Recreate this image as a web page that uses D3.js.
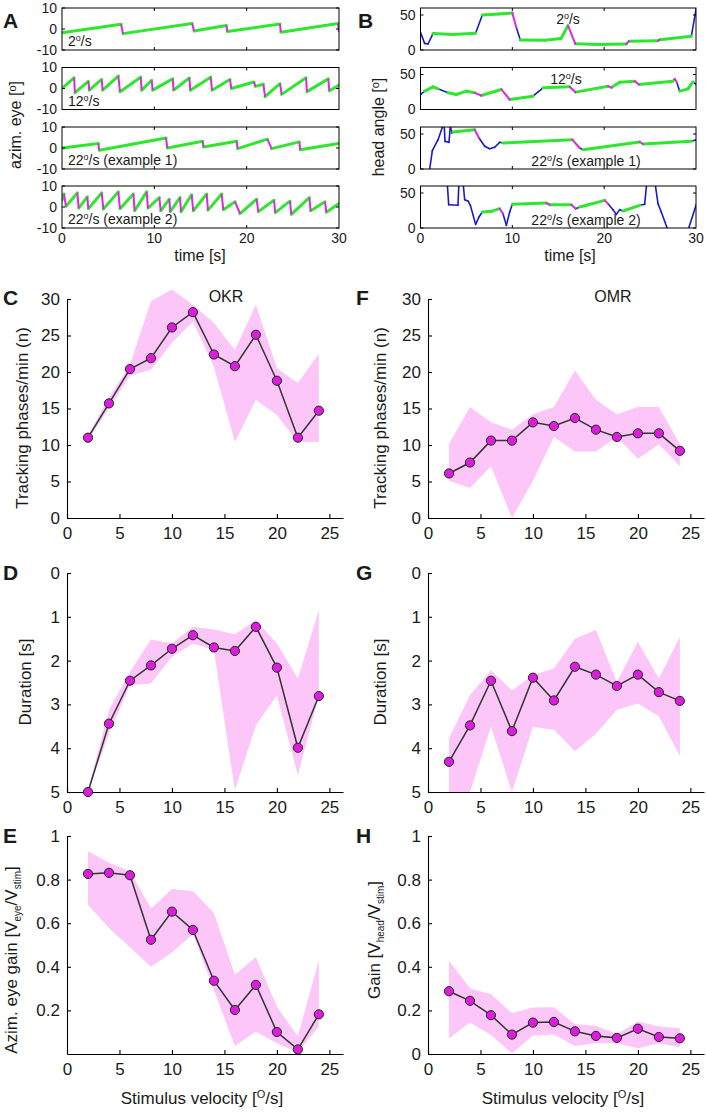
<!DOCTYPE html>
<html>
<head>
<meta charset="utf-8">
<script src="https://cdn.jsdelivr.net/npm/d3@7"></script>
<style>
  body { margin: 0; background: #fff; }
  text { font-family: "Liberation Sans", Arial, Helvetica, sans-serif; fill: #1a1a1a; }
</style>
</head>
<body>
<div id="container"></div>
<script>
/* DATA */
var speeds = [2, 4, 6, 8, 10, 12, 14, 16, 18, 20, 22, 24];

// C: OKR tracking phases/min
var okrRate   = [11.0, 15.7, 20.4, 21.9, 26.1, 28.2, 22.4, 20.8, 25.1, 18.8, 11.0, 14.7];
var okrRateLo = [10.7, 15.0, 19.5, 20.3, 24.0, 26.9, 20.7, 10.4, 16.2, 14.1, 10.4, 10.4];
var okrRateHi = [11.3, 16.5, 21.0, 29.7, 31.3, 29.2, 26.7, 23.0, 29.2, 20.5, 18.5, 22.5];
// F: OMR tracking phases/min
var omrRate   = [6.1, 7.6, 10.6, 10.6, 13.1, 12.6, 13.7, 12.1, 11.1, 11.6, 11.6, 9.2];
var omrRateLo = [5.1, 4.1, 7.1, 0.0, 5.1, 11.1, 9.1, 9.1, 11.1, 8.1, 10.1, 7.1];
var omrRateHi = [10.1, 15.2, 13.1, 12.1, 14.2, 15.2, 20.2, 16.2, 14.2, 15.2, 15.2, 10.1];
// D: OKR duration
var okrDur    = [5.0, 3.44, 2.46, 2.11, 1.73, 1.42, 1.70, 1.78, 1.23, 2.16, 3.99, 2.81];
var okrDurLo  = [4.95, 3.13, 2.26, 1.52, 1.61, 1.23, 1.29, 1.40, 1.08, 1.61, 2.41, 0.85];
var okrDurHi  = [5.0, 3.67, 2.56, 2.52, 1.91, 1.61, 1.76, 4.96, 3.48, 2.79, 4.62, 2.81];
// G: OMR duration
var omrDur    = [4.31, 3.48, 2.46, 3.61, 2.39, 2.91, 2.14, 2.32, 2.58, 2.32, 2.72, 2.92];
var omrDurLo  = [3.78, 2.79, 2.22, 2.68, 2.33, 2.18, 1.50, 1.30, 2.49, 1.57, 2.41, 1.46];
var omrDurHi  = [5.0, 5.0, 3.51, 5.0, 3.51, 3.58, 4.07, 3.67, 3.12, 2.98, 3.27, 4.18];
// E: OKR gain
var okrGain   = [0.826, 0.831, 0.820, 0.524, 0.653, 0.569, 0.336, 0.202, 0.317, 0.101, 0.021, 0.182];
var okrGainLo = [0.685, 0.578, 0.490, 0.400, 0.466, 0.550, 0.294, 0.037, 0.103, 0.049, 0.008, 0.126];
var okrGainHi = [0.930, 0.877, 0.838, 0.667, 0.757, 0.746, 0.647, 0.363, 0.444, 0.218, 0.080, 0.430];
// H: OMR gain
var omrGain   = [0.288, 0.244, 0.178, 0.089, 0.144, 0.147, 0.104, 0.083, 0.074, 0.116, 0.078, 0.072];
var omrGainLo = [0.072, 0.144, 0.087, 0.003, 0.084, 0.090, 0.037, 0.049, 0.049, 0.026, 0.049, 0.031];
var omrGainHi = [0.428, 0.302, 0.274, 0.187, 0.213, 0.215, 0.136, 0.130, 0.092, 0.149, 0.126, 0.118];

// A: azimuthal eye traces [time s, angle deg]
var eye2 = [[0,-1.8],[6.4,2.3],[6.6,-2.2],[14.1,2.6],[14.3,-1.0],[17.8,1.7],[17.9,-1.2],[23.6,2.4],[23.7,-1.5],[29.9,2.6],[30,-1.5]];
var eye12 = [[0,0],[1.30,5.1],[1.41,-2.0],[2.85,3.4],[2.96,-0.8],[4.30,4.3],[4.40,-0.8],[6.10,5.9],[6.28,-1.5],[8.52,5.4],[8.63,-0.8],
  [9.71,3.9],[9.82,-0.8],[11.99,4.6],[12.09,-0.8],[13.79,5.0],[13.90,-0.8],[16.10,5.4],[16.25,-0.8],[18.19,4.3],[18.34,0],
  [20.79,3.1],[20.94,1.0],[21.81,2.0],[21.99,-3.9],[23.61,2.3],[23.79,-2.8],[26.43,5.1],[26.53,-1.5],[28.84,4.6],[28.95,-1.1],[30,1.6]];
var eye22a = [[0.04,0],[3.94,2.1],[4.04,-1.1],[11.26,4.8],[11.41,0],[15.23,3.2],[15.33,0.5],[18.92,3.2],[19.02,-0.3],
  [22.24,4.2],[22.7,-0.3],[25.7,2.9],[25.8,-0.8],[29.93,2.1]];
var eye22b = [[0,3.2],[0.22,6.2],[0.43,0.3],[1.66,6.7],[1.81,-0.5],[2.74,4.8],[2.85,-0.8],[4.30,6.7],[4.48,-1.0],[6.10,7.2],[6.28,-0.8],
  [7.73,6.2],[7.87,-1.7],[9.17,7.2],[9.31,-0.5],[10.54,4.5],[10.69,-1.8],[11.62,3.7],[11.73,-2.2],[12.78,4.5],[12.89,-2.2],
  [14.04,5.8],[14.22,-1.8],[15.67,6.2],[15.81,-1.5],[17.29,6.2],[17.47,-1.3],[18.74,2.5],[19.28,-3.2],[21.08,3.7],[21.26,-2.2],
  [22.96,3.2],[23.10,-2.7],[24.69,2.8],[24.84,-3.5],[26.79,4.5],[26.93,-1.8],[28.48,2.5],[28.63,-2.5],[30.0,1.7]];

// B: head angle traces [time s, angle deg, phase of following segment]  b = no tracking, g = slow, m = fast
var head2 = [[0,25.2,'b'],[0.45,9.5,'b'],[0.82,8.6,'b'],[1.36,23.5,'g'],[3.5,22.3,'g'],[6.0,24.0,'b'],[6.73,50.0,'g'],[8.5,51.5,'g'],
  [10.0,52.9,'m'],[10.44,32.0,'b'],[10.87,14.3,'g'],[13.5,14.0,'g'],[15.3,16.5,'g'],[16.06,34.8,'m'],[16.85,9.0,'g'],[19.5,8.0,'g'],
  [22.41,8.6,'m'],[22.7,12.5,'g'],[25.86,13.3,'m'],[26.05,14.8,'g'],[29.49,19.5,'b'],[30.04,61,'b']];
var head12 = [[0,21.4,'b'],[0.45,26.2,'g'],[1.36,32.4,'g'],[1.91,29.5,'b'],[2.99,23.8,'g'],[3.90,21.4,'g'],[4.99,26.2,'g'],[5.90,23.8,'m'],
  [6.62,20.0,'g'],[8.80,28.6,'m'],[9.71,14.3,'g'],[12.25,19.0,'b'],[13.34,31.0,'g'],[16.24,32.4,'m'],[16.89,24.8,'g'],[20.42,33.3,'m'],
  [20.78,31.4,'g'],[21.69,39.0,'g'],[23.32,40.5,'m'],[23.79,35.7,'g'],[27.5,40.5,'b'],[27.68,43.8,'m'],[27.93,38.1,'b'],[28.22,26.2,'g'],
  [29.13,29.5,'g'],[29.67,39.5,'b'],[30.04,35.7,'b']];
var head22a = [[1.0,0,'b'],[1.29,26.2,'b'],[1.91,41.9,'b'],[2.38,59.5,'b'],[2.52,77,'b'],[2.67,39.5,'b'],[3.10,38.1,'b'],[3.25,61,'b'],
  [3.43,51.4,'b'],[3.54,52.9,'g'],[5.90,56.2,'m'],[6.37,44.3,'b'],[6.99,32.4,'b'],[7.53,29.0,'b'],[8.08,31.0,'b'],[8.62,38.1,'b'],
  [8.98,37.1,'g'],[16.53,41.9,'m'],[17.33,30.0,'b'],[17.70,27.6,'g'],[23.87,38.6,'m'],[24.23,35.7,'g'],[29.49,39.5,'b'],[30.04,41.9,'b']];
var head22b = [[2.92,63,'b'],[3.07,33.3,'b'],[4.08,32.4,'b'],[4.19,65.7,'b'],[4.63,65.7,'b'],[4.81,40.5,'b'],[5.17,38.6,'b'],[5.43,32.4,'b'],
  [6.0,5.2,'b'],[6.37,15.7,'b'],[6.73,22.9,'g'],[7.71,23.8,'g'],[8.62,27.6,'m'],[8.98,20.5,'b'],[9.35,3.8,'b'],[9.71,22.9,'b'],
  [10.0,33.8,'g'],[13.7,35.7,'m'],[14.07,33.3,'g'],[16.43,33.3,'m'],[16.9,27.6,'b'],[17.33,30,'g'],[18.06,32.4,'g'],[20.06,39.5,'m'],
  [20.42,34.8,'b'],[20.96,26.2,'b'],[21.33,19.5,'b'],[21.69,26.2,'b'],[22.05,24.3,'g'],[23.87,32.4,'b'],[24.41,33.8,'b'],[24.66,68,'b'],
  [25.5,68,'b'],[25.86,34.8,'b'],[26.22,22.9,'b'],[26.95,-3.3,'b'],[29.13,-3.3,'b'],[30.04,33.8,'b']];

var eyeLabels = ['2', '12', '22', '22'];
var eyeNotes = ['', '', ' (example 1)', ' (example 2)'];

/* COLOURS */
var GREEN = '#2fe62f', MAGENTA = '#e026e0', BLUE = '#1a1ac8';
var BAND = '#fcc6f8', DOT = '#dd1ddd', LINE = '#333';

var svg = d3.select('#container').append('svg')
  .attr('width', 706).attr('height', 1113)
  .style('background', '#fff');

function letter(txt, x, y) {
  svg.append('text').attr('x', x).attr('y', y).text(txt)
    .attr('font-size', 21).attr('font-weight', 'bold');
}

// text with superscript "o" e.g. 2°/s
function speedText(g, x, y, speed, note, anchor) {
  var t = g.append('text').attr('x', x).attr('y', y).attr('font-size', 14).attr('text-anchor', anchor);
  t.append('tspan').text(speed);
  t.append('tspan').text('o').attr('font-size', 9).attr('dy', -5);
  t.append('tspan').text('/s' + note).attr('dy', 5);
}

/* TRACE PANELS (A, B) */
var traceTops = [8, 67.5, 127, 186], traceH = 42;

function tracePanel(left, right, top, yDom, yTicks, showX, idx) {
  var x = d3.scaleLinear().domain([0, 30]).range([left, right]);
  var y = d3.scaleLinear().domain(yDom).range([top + traceH, top]);
  var g = svg.append('g');
  var cid = 'clip' + idx;
  g.append('clipPath').attr('id', cid).append('rect')
    .attr('x', left).attr('y', top).attr('width', right - left).attr('height', traceH);
  var plot = g.append('g').attr('clip-path', 'url(#' + cid + ')');
  // frame + inward ticks
  g.append('rect').attr('x', left).attr('y', top).attr('width', right - left).attr('height', traceH)
    .attr('fill', 'none').attr('stroke', '#000').attr('stroke-width', 1);
  [10, 20].forEach(function(t) {
    g.append('line').attr('x1', x(t)).attr('x2', x(t)).attr('y1', top).attr('y2', top + 3).attr('stroke', '#000');
    g.append('line').attr('x1', x(t)).attr('x2', x(t)).attr('y1', top + traceH).attr('y2', top + traceH - 3).attr('stroke', '#000');
  });
  yTicks.forEach(function(v) {
    g.append('line').attr('x1', left).attr('x2', left + 3).attr('y1', y(v)).attr('y2', y(v)).attr('stroke', '#000');
    g.append('line').attr('x1', right).attr('x2', right - 3).attr('y1', y(v)).attr('y2', y(v)).attr('stroke', '#000');
    g.append('text').attr('x', left - 5).attr('y', y(v)).attr('dy', '0.35em')
      .attr('text-anchor', 'end').attr('font-size', 14).text(v);
  });
  if (showX) {
    [0, 10, 20, 30].forEach(function(t) {
      g.append('text').attr('x', x(t)).attr('y', top + traceH + 15)
        .attr('text-anchor', 'middle').attr('font-size', 14).text(t);
    });
  }
  return {g: g, plot: plot, x: x, y: y};
}

// A panels
traceTops.forEach(function(top, i) {
  var p = tracePanel(62, 339, top, [-10, 10], [-10, 0, 10], i === 3, 'a' + i);
  var data = [eye2, eye12, eye22a, eye22b][i];
  var segs = d3.pairs(data);
  p.plot.selectAll('line.slow').data(segs.filter(function(s) { return s[1][1] >= s[0][1]; }))
    .enter().append('line')
    .attr('x1', function(s) { return p.x(s[0][0]); }).attr('y1', function(s) { return p.y(s[0][1]); })
    .attr('x2', function(s) { return p.x(s[1][0]); }).attr('y2', function(s) { return p.y(s[1][1]); })
    .attr('stroke', GREEN).attr('stroke-width', 3).attr('stroke-linecap', 'round');
  p.plot.selectAll('line.fast').data(segs.filter(function(s) { return s[1][1] < s[0][1]; }))
    .enter().append('line')
    .attr('x1', function(s) { return p.x(s[0][0]); }).attr('y1', function(s) { return p.y(s[0][1]); })
    .attr('x2', function(s) { return p.x(s[1][0]); }).attr('y2', function(s) { return p.y(s[1][1]); })
    .attr('stroke', MAGENTA).attr('stroke-width', 2);
  speedText(p.g, 68, top + traceH - 4, eyeLabels[i], eyeNotes[i], 'start');
});

// B panels
var headCentres = [568, 566, 586, 586];
traceTops.forEach(function(top, i) {
  var p = tracePanel(420.5, 696, top, [0, 60], [0, 50], i === 3, 'b' + i);
  var data = [head2, head12, head22a, head22b][i];
  var segs = d3.pairs(data);
  var col = {b: BLUE, g: GREEN, m: MAGENTA}, wid = {b: 1.6, g: 3, m: 2};
  ['b', 'g', 'm'].forEach(function(ph) {
    p.plot.selectAll('line.' + ph).data(segs.filter(function(s) { return s[0][2] === ph; }))
      .enter().append('line')
      .attr('x1', function(s) { return p.x(s[0][0]); }).attr('y1', function(s) { return p.y(s[0][1]); })
      .attr('x2', function(s) { return p.x(s[1][0]); }).attr('y2', function(s) { return p.y(s[1][1]); })
      .attr('stroke', col[ph]).attr('stroke-width', wid[ph]).attr('stroke-linecap', 'round');
  });
  var ty = i < 2 ? top + 16 : top + traceH - 3;
  speedText(p.g, headCentres[i], ty, eyeLabels[i], eyeNotes[i], 'middle');
});

// A/B axis titles
svg.append('text').attr('transform', 'translate(21,125) rotate(-90)')
  .attr('text-anchor', 'middle').attr('font-size', 16)
  .call(function(t) {
    t.append('tspan').text('azim. eye [');
    t.append('tspan').text('o').attr('font-size', 11).attr('dy', -5);
    t.append('tspan').text(']').attr('dy', 5);
  });
svg.append('text').attr('transform', 'translate(384,127) rotate(-90)')
  .attr('text-anchor', 'middle').attr('font-size', 16)
  .call(function(t) {
    t.append('tspan').text('head angle [');
    t.append('tspan').text('o').attr('font-size', 11).attr('dy', -5);
    t.append('tspan').text(']').attr('dy', 5);
  });
svg.append('text').attr('x', 200).attr('y', 261).attr('text-anchor', 'middle').attr('font-size', 16).text('time [s]');
svg.append('text').attr('x', 570).attr('y', 261).attr('text-anchor', 'middle').attr('font-size', 16).text('time [s]');

letter('A', 3, 28);
letter('B', 358, 28);

/* SUMMARY PANELS (C-H) */
function velLabel(t) {
  t.append('tspan').text('Stimulus velocity [');
  t.append('tspan').text('O').attr('font-size', 11).attr('dy', -6);
  t.append('tspan').text('/s]').attr('dy', 6);
}

function statPanel(o) {
  var x = d3.scaleLinear().domain([0, 26.3]).range([o.left, o.left + 276]);
  var y = d3.scaleLinear().domain(o.dom).range(o.range);
  var g = svg.append('g');
  var area = d3.area()
    .x(function(d, i) { return x(speeds[i]); })
    .y0(function(d, i) { return y(o.lo[i]); })
    .y1(function(d, i) { return y(o.hi[i]); });
  g.append('path').datum(o.mean).attr('d', area).attr('fill', BAND);

  var xBase = Math.max(o.range[0], o.range[1]);
  var xAxis = d3.axisBottom(x).tickValues([0, 5, 10, 15, 20, 25]).tickSizeInner(-4).tickSizeOuter(0).tickPadding(7);
  var gx = g.append('g').attr('transform', 'translate(0,' + xBase + ')').call(xAxis);
  var yAxis = d3.axisLeft(y).tickValues(o.ticks).tickSizeInner(-4).tickSizeOuter(0).tickPadding(7)
    .tickFormat(o.fmt || d3.format('d'));
  var gy = g.append('g').attr('transform', 'translate(' + o.left + ',0)').call(yAxis);
  [gx, gy].forEach(function(a) {
    a.attr('font-family', null).attr('font-size', 17);
    a.selectAll('path, line').attr('stroke', '#000').attr('stroke-width', 1.1);
    a.selectAll('text').attr('fill', '#1a1a1a');
  });
  gx.selectAll('text').attr('dy', '0.8em');

  g.append('path').datum(o.mean)
    .attr('d', d3.line().x(function(d, i) { return x(speeds[i]); }).y(function(d) { return y(d); }))
    .attr('fill', 'none').attr('stroke', LINE).attr('stroke-width', 1.5);
  g.selectAll('circle').data(o.mean).enter().append('circle')
    .attr('cx', function(d, i) { return x(speeds[i]); })
    .attr('cy', function(d) { return y(d); })
    .attr('r', 4.6).attr('fill', DOT).attr('stroke', '#222').attr('stroke-width', 1);

  var lab = g.append('text').attr('transform', 'translate(' + o.labX + ',' + o.labY + ') rotate(-90)')
    .attr('text-anchor', 'middle').attr('font-size', 17);
  o.label(lab);
  if (o.xlab) {
    var xl = g.append('text').attr('x', o.left + 135).attr('y', xBase + 50)
      .attr('text-anchor', 'middle').attr('font-size', 17);
    velLabel(xl);
  }
}

function gainLabel(sub) {
  return function(t) {
    t.append('tspan').text(sub === 'eye' ? 'Azim. eye gain [V' : 'Gain [V');
    t.append('tspan').text(sub).attr('font-size', 10).attr('dy', 4);
    t.append('tspan').text('/V').attr('dy', -4);
    t.append('tspan').text('stim').attr('font-size', 10).attr('dy', 4);
    t.append('tspan').text(']').attr('dy', -4);
  };
}
function plainLabel(s) { return function(t) { t.text(s); }; }
var gainFmt = function(d) { return d === 0 ? '0' : d === 1 ? '1' : d.toFixed(1); };

statPanel({left: 67, dom: [0, 30], range: [518, 299], ticks: [0, 5, 10, 15, 20, 25, 30],
  mean: okrRate, lo: okrRateLo, hi: okrRateHi, label: plainLabel('Tracking phases/min (n)'), labX: 28, labY: 418});
statPanel({left: 428, dom: [0, 30], range: [518, 299], ticks: [0, 5, 10, 15, 20, 25, 30],
  mean: omrRate, lo: omrRateLo, hi: omrRateHi, label: plainLabel('Tracking phases/min (n)'), labX: 386, labY: 418});
statPanel({left: 67, dom: [0, 5], range: [573, 792], ticks: [0, 1, 2, 3, 4, 5],
  mean: okrDur, lo: okrDurLo, hi: okrDurHi, label: plainLabel('Duration [s]'), labX: 31, labY: 682});
statPanel({left: 428, dom: [0, 5], range: [573, 792], ticks: [0, 1, 2, 3, 4, 5],
  mean: omrDur, lo: omrDurLo, hi: omrDurHi, label: plainLabel('Duration [s]'), labX: 386, labY: 682});
statPanel({left: 67, dom: [0, 1], range: [1054, 836], ticks: [0.2, 0.4, 0.6, 0.8, 1], fmt: gainFmt,
  mean: okrGain, lo: okrGainLo, hi: okrGainHi, label: gainLabel('eye'), labX: 17, labY: 960, xlab: true});
statPanel({left: 428, dom: [0, 1], range: [1054, 836], ticks: [0, 0.2, 0.4, 0.6, 0.8, 1], fmt: gainFmt,
  mean: omrGain, lo: omrGainLo, hi: omrGainHi, label: gainLabel('head'), labX: 380, labY: 940, xlab: true});

svg.append('text').attr('x', 226).attr('y', 302).attr('text-anchor', 'middle').attr('font-size', 16).text('OKR');
svg.append('text').attr('x', 613).attr('y', 302).attr('text-anchor', 'middle').attr('font-size', 16).text('OMR');

letter('C', 3, 305);
letter('F', 356, 305);
letter('D', 3, 580);
letter('G', 356, 580);
letter('E', 3, 843);
letter('H', 356, 843);
</script>
</body>
</html>
